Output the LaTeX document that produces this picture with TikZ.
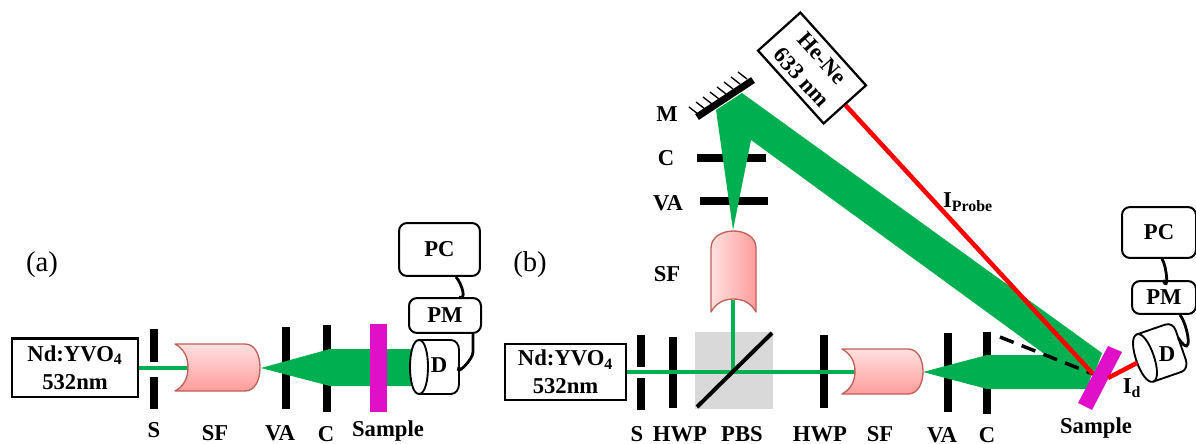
\documentclass[tikz,border=0pt]{standalone}
\usepackage{fontspec}
\setmainfont{Liberation Serif}
\definecolor{gbeam}{HTML}{00B050}
\definecolor{rbeam}{HTML}{FF0000}
\definecolor{samp}{HTML}{E010C8}
\definecolor{sfedge}{HTML}{C0605A}
\definecolor{sflight}{HTML}{FFE0E0}
\definecolor{sfdark}{HTML}{FF9C9C}
\definecolor{pbsgray}{HTML}{D9D9D9}
\tikzset{
  lab/.style={font=\fontsize{17}{21}\selectfont\bfseries,inner sep=0pt,align=center},
  plain/.style={font=\fontsize{21.5}{25}\selectfont,inner sep=0pt},
  laserbox/.style={draw=black,line width=2pt,fill=white,font=\fontsize{17}{21}\selectfont\bfseries,align=center,inner sep=0pt},
  roundbox/.style={draw=black,line width=1.5pt,rounded corners=6pt,fill=white,font=\fontsize{17}{21}\selectfont\bfseries,inner sep=0pt},
  optbar/.style={draw=black,line width=5.8pt},
  thinbeam/.style={draw=gbeam,line width=3.6pt},
  redbeam/.style={draw=rbeam,line width=3.4pt},
  wire/.style={draw=black,line width=2.1pt},
  filter/.style={draw=sfedge,line width=1pt,line join=round},
  det/.style={draw=black,line width=1.4pt,fill=white,line join=round},
  x=0.75pt,y=-0.75pt
}
\newcommand{\hfilter}[4]{% x-left, x-right, y-top, y-bottom
  \path[filter,top color=sflight,bottom color=sfdark]
    (#1,#3) -- ({#2-15},#3) .. controls ({#2-5},#3) and (#2,{#3+11}) .. (#2,{(#3+#4)/2})
    .. controls (#2,{#4-11}) and ({#2-5},#4) .. ({#2-15},#4) -- (#1,#4)
    .. controls ({#1+9},{#4-5}) and ({#1+13},{#4-13}) .. ({#1+13},{(#3+#4)/2})
    .. controls ({#1+13},{#3+13}) and ({#1+9},{#3+5}) .. (#1,#3) -- cycle;}
\begin{document}
\begin{tikzpicture}
\useasboundingbox[fill=white] (0,0) rectangle (1196,443);

% ===== (a) =====
\node[plain] (tagA) at (42,265) {(a)};
\node[laserbox,minimum width=94.5pt,minimum height=44pt] (laserA) at (75,367.5) {Nd:YVO\textsubscript{4}\\532nm};
\coordinate (sfAin) at (190,368);
\draw[optbar] (154,329) -- (154,362);
\draw[optbar] (154,377) -- (154,409);
\draw[optbar] (286,327) -- (286,409);
\draw[optbar] (327,325) -- (327,412);
\draw[thinbeam] (laserA.east |- sfAin) -- (sfAin);
\hfilter{175}{260}{344}{391}
\fill[gbeam] (261,368) -- (330,349) -- (412,349) -- (412,386) -- (330,386) -- cycle;
\fill[samp] (370,324) rectangle (387,412);

\begin{scope}[shift={(419,367)}]
  \path[det] (0,-27) -- (32,-27) .. controls (37,-27) and (40,-22) .. (40,-17)
     -- (40,17) .. controls (40,22) and (37,27) .. (32,27) -- (0,27) -- cycle;
  \path[det] (0,-27) .. controls (-12,-27) and (-12,27) .. (0,27)
     .. controls (12,27) and (12,-27) .. (0,-27) -- cycle;
  \coordinate (detAport) at (40,0);
\end{scope}
\node[lab] (detA) at (439,365) {D};
\node[roundbox,minimum width=54pt,minimum height=26.2pt] (pmA) at (445,315.5) {PM};
\node[roundbox,minimum width=60.7pt,minimum height=39.7pt] (pcA) at (439.5,249.5) {PC};
\draw[wire] ([xshift=12.4pt]pcA.south) .. controls +(6,7) and +(8,4) .. ([xshift=10.5pt]pmA.north);
\draw[wire] ([xshift=21pt]pmA.south) -- ++(0,18) .. controls +(0,8) and +(-4,10) .. (detAport);

\node[lab] (lS) at (154,430) {S};
\node[lab] (lSF) at (215,433) {SF};
\node[lab] (lVA) at (280,433) {VA};
\node[lab] (lC) at (326,434) {C};
\node[lab] (lSam) at (388,431) {Sample};

% ===== (b) =====
\node[plain] (tagB) at (530,265) {(b)};
\node[laserbox,minimum width=90.7pt,minimum height=42pt] (laserB) at (565.5,372) {Nd:YVO\textsubscript{4}\\532nm};
\node[draw=none,fill=pbsgray,minimum width=58.5pt,minimum height=57.7pt,inner sep=0pt] (pbs) at (734,370.5) {};
\coordinate (split) at (733,372);
\coordinate (sfBin) at (855,372);
\coordinate (sfCin) at (733,300);
\draw[optbar] (641,335) -- (641,367);
\draw[optbar] (641,378) -- (641,410);
\draw[optbar] (673,337) -- (673,408);
\draw[optbar] (824,335) -- (824,408);
\draw[optbar] (948,333) -- (948,412);
\draw[optbar] (987,332) -- (987,414);
\draw[optbar] (697,158) -- (766,158);
\draw[optbar] (700,201) -- (768,201);
\draw[thinbeam] (laserB.east |- split) -- (sfBin);
\draw[thinbeam] (split) -- (sfCin);
\draw[black,line width=3pt] (697,407) -- (772,333);
\hfilter{842}{923}{349}{394}
% vertical spatial filter
\path[filter,left color=sflight,right color=sfdark]
  (711,312) -- (711,248) .. controls (711,237) and (722,231) .. (733.5,231)
  .. controls (745,231) and (756,237) .. (756,248) -- (756,312)
  .. controls (751,303) and (743,299) .. (733.5,299)
  .. controls (724,299) and (716,303) .. (711,312) -- cycle;

% green beams
\fill[gbeam] (733,230) -- (716,110) -- (742,93) -- (1102,353) -- (1095,372) -- (1043,353) -- (751,140) -- cycle;
\fill[gbeam] (923,372) -- (987,355) -- (1060,355) -- (1092,372) -- (1088,389) -- (987,389) -- cycle;

% mirror
\draw[black,line width=5.2pt] (697,117) -- (753,80);
\foreach \i in {0,...,7}{
  \draw[black,line width=1pt] ({689+7*\i},{107-5*\i}) -- ++(9,7);
}
\node[lab] (lM) at (667,114) {M};
\node[lab] (lC2) at (666,158) {C};
\node[lab] (lVA2) at (668,203) {VA};
\node[lab] (lSF2) at (667,274) {SF};

% He-Ne
\node[laserbox,rotate=-48,minimum width=73.5pt,minimum height=42.7pt,line width=1.7pt] (hene) at (812,68) {He-Ne\\633 nm};

% sample and rays
\coordinate (hit) at (1093,374);
\draw[black,line width=2.6pt,dash pattern=on 11pt off 6.5pt] (1000,337) -- (hit);
\draw[redbeam] (hene.east) -- (hit);
\fill[samp] (1108,346) -- (1122,352) -- (1092,410) -- (1078,403) -- cycle;

\begin{scope}[shift={(1145,358)},rotate=19]
  \path[det] (0,-25) -- (30,-25) .. controls (35,-25) and (38,-21) .. (38,-16)
     -- (38,15) .. controls (38,20) and (35,25) .. (30,25) -- (0,25) -- cycle;
  \path[det] (0,-25) .. controls (-12,-25) and (-12,25) .. (0,25)
     .. controls (12,25) and (12,-25) .. (0,-25) -- cycle;
  \coordinate (detBin) at (-9,2);
  \coordinate (detBport) at (38,-8);
\end{scope}
\node[lab] (detB) at (1167,354) {D};
\draw[redbeam] (1108,378) -- (detBin);
\node[roundbox,minimum width=48pt,minimum height=24.7pt] (pmB) at (1164,297.5) {PM};
\node[roundbox,minimum width=55.5pt,minimum height=38.2pt] (pcB) at (1159,232.5) {PC};
\draw[wire] ([xshift=2.2pt]pcB.south) .. controls +(5,7) and +(6,14) .. ([xshift=-0.7pt]pmB.north);
\draw[wire] ([xshift=12pt]pmB.south) .. controls +(8,10) and +(16,24) .. (detBport);

\node[lab] (lS2) at (637,434) {S};
\node[lab] (lH1) at (680,434) {HWP};
\node[lab] (lP) at (742,434) {PBS};
\node[lab] (lH2) at (820,434) {HWP};
\node[lab] (lSF3) at (880,434) {SF};
\node[lab] (lVA3) at (942,435) {VA};
\node[lab] (lC3) at (987,435) {C};
\node[lab] (lSam2) at (1096,428) {Sample};
\node[lab] (lId) at (1132,388) {I\textsubscript{d}};
\node[lab] (lProbe) at (968,202) {I\textsubscript{Probe}};
\end{tikzpicture}
\end{document}
